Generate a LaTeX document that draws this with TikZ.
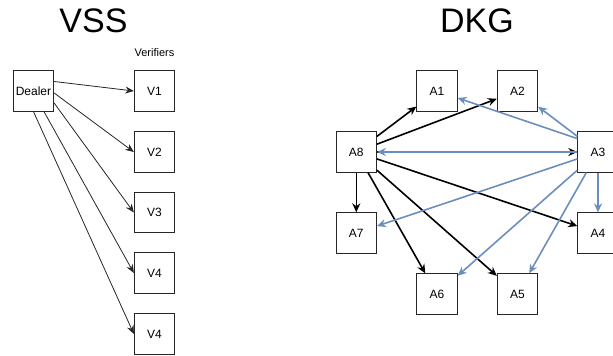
\documentclass[tikz,border=0pt]{standalone}
\usepackage{fontspec}
\setmainfont{Liberation Sans}
\usetikzlibrary{arrows.meta}
\definecolor{edgeblue}{HTML}{6C8EBF}
\begin{document}
\begin{tikzpicture}[x=1pt,y=-1pt,
  box/.style={draw=black!85, line width=0.8pt, fill=white, minimum width=40.5pt,
    minimum height=40.5pt, inner sep=0pt, font=\fontsize{12}{14}\selectfont},
  heading/.style={anchor=base, inner sep=0pt, font=\fontsize{34}{40}\selectfont},
  caption/.style={anchor=base, inner sep=0pt, font=\fontsize{11}{13}\selectfont},
  thin arrow/.style={draw=black!85, line width=0.8pt, -{Stealth[length=8.5pt,width=7pt]}},
  bold arrow/.style={draw=black, line width=1.6pt, -{Stealth[length=9pt,width=8pt]}},
  blue arrow/.style={draw=edgeblue, line width=1.6pt, -{Stealth[length=9pt,width=8pt]}},
]
\clip (0,0) rectangle (613,356);

% ---------- VSS ----------
\node[heading] (vsstitle) at (93.5,32) {VSS};
\node[caption] (verifiers) at (154.5,56.5) {Verifiers};

\node[box] (dealer) at (33.5,91) {Dealer};
\node[box] (v1) at (154.5,91) {V1};
\node[box] (v2) at (154.5,152) {V2};
\node[box] (v3) at (154.5,212.5) {V3};
\node[box] (v4) at (154.5,273) {V4};
\node[box] (v5) at (154.5,334) {V4};

\draw[thin arrow] ([yshift=9.5pt]dealer.east) -- (v1.west);
\draw[thin arrow] ([yshift=-2pt]dealer.east) -- (v2.west);
\draw[thin arrow] ([yshift=-12pt]dealer.east) -- (v3.west);
\draw[thin arrow] ([xshift=10.5pt]dealer.south) -- (v4.west);
\draw[thin arrow] (dealer.south) -- (v5.west);

% ---------- DKG ----------
\node[heading] (dkgtitle) at (477,32) {DKG};

\node[box] (a1) at (437,91) {A1};
\node[box] (a2) at (517.5,91) {A2};
\node[box] (a8) at (356.3,152) {A8};
\node[box] (a3) at (598,152) {A3};
\node[box] (a7) at (356.3,233) {A7};
\node[box] (a4) at (598,233) {A4};
\node[box] (a6) at (437,294) {A6};
\node[box] (a5) at (517.5,294) {A5};

% messages sent by A8
\draw[bold arrow] (a8) -- (a1);
\draw[bold arrow] (a8) -- (a2);
\draw[bold arrow] (a8) -- (a3);
\draw[bold arrow] (a8) -- (a4);
\draw[bold arrow] (a8) -- (a5);
\draw[bold arrow] (a8) -- (a6);
\draw[bold arrow] (a8) -- (a7);

% messages sent by A3
\draw[blue arrow] (a3.147) -- (a1);
\draw[blue arrow] (a3) -- (a2);
\draw[blue arrow] (a3) -- (a8);
\draw[blue arrow] (a3) -- (a7);
\draw[blue arrow] (a3) -- (a6);
\draw[blue arrow] (a3) -- (a5);
\draw[blue arrow] (a3) -- (a4);
\end{tikzpicture}
\end{document}
